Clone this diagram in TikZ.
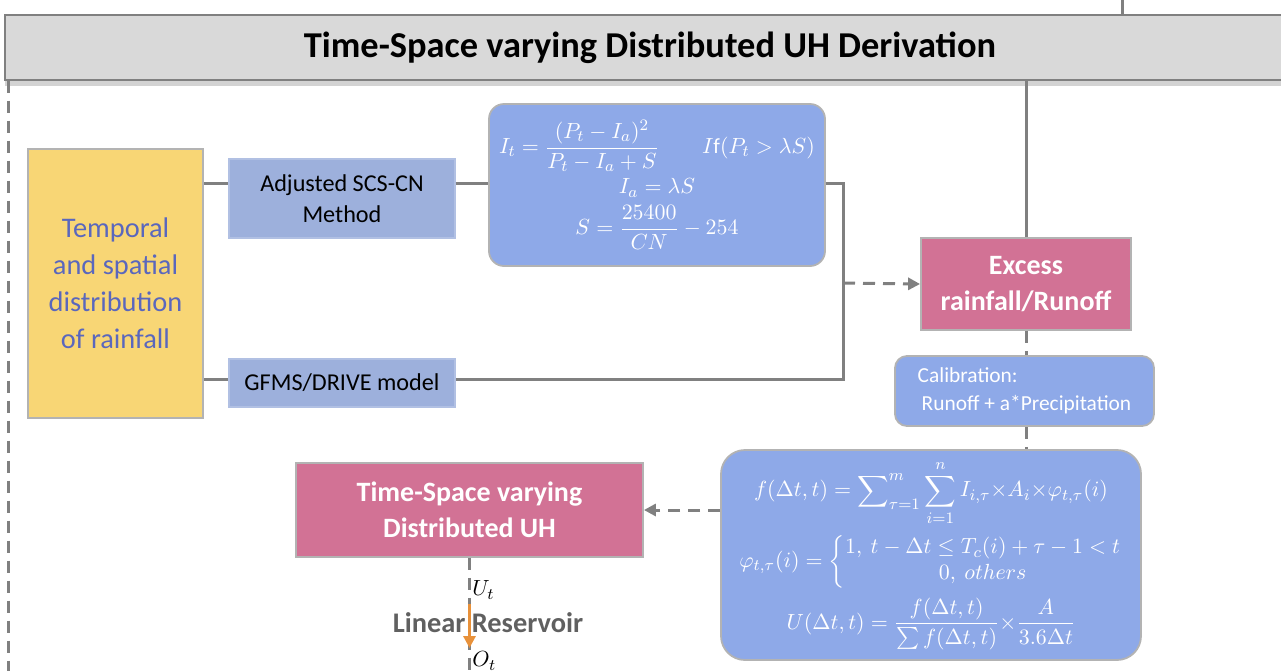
\documentclass[tikz,border=0pt]{standalone}
\usepackage{amsmath}
\usepackage{fontspec}
\setmainfont{Carlito}
\usetikzlibrary{arrows.meta,shadows}
\definecolor{bannergray}{HTML}{D9D9D9}
\definecolor{edgegray}{HTML}{B3B3B3}
\definecolor{linegray}{HTML}{808080}
\definecolor{rainyellow}{HTML}{F8D675}
\definecolor{raintext}{HTML}{5A67BD}
\definecolor{methodblue}{HTML}{9DB0DC}
\definecolor{eqblue}{HTML}{8EA9E8}
\definecolor{uhpink}{HTML}{D27295}
\definecolor{resorange}{HTML}{E8913A}
\definecolor{restext}{HTML}{606060}
\tikzstyle{banner} = [draw=linegray, fill=bannergray, line width=0.6pt,%
	minimum width=645pt, minimum height=32.5pt,%
	drop shadow={shadow xshift=0pt, shadow yshift=-3pt, opacity=0.35},%
	font=\fontsize{18.2}{22}\selectfont\bfseries]
\tikzstyle{methodbox} = [draw=methodblue!80!white, fill=methodblue, line width=0.6pt,%
	minimum width=113pt, align=center, font=\fontsize{12.1}{15.5}\selectfont]
\tikzstyle{eqbox} = [draw=edgegray, fill=eqblue, line width=0.9pt, text=white,%
	align=center, font=\fontsize{10.8}{13}\selectfont]
\tikzstyle{resultbox} = [draw=edgegray, fill=uhpink, line width=0.9pt, text=white,%
	align=center, font=\fontsize{14}{18}\selectfont\bfseries]
\tikzstyle{link} = [draw=linegray, line width=1.5pt]
\tikzstyle{dashlink} = [draw=linegray, line width=1.5pt, dash pattern=on 6pt off 4pt]
\tikzstyle{dasharrow} = [dashlink, -{Triangle[width=6pt,length=6pt]}]
\newcommand{\tx}{\mathord{\times}}
\begin{document}
\begin{tikzpicture}[x=0.5pt,y=-0.5pt]
	\useasboundingbox (0,0) rectangle (1281,671);
	% header
	\node[banner] (title) at (650,47.5) {Time-Space varying Distributed UH Derivation};
	% inputs and methods
	\node[draw=edgegray, fill=rainyellow, line width=0.9pt, minimum width=87.5pt, minimum height=134.5pt,%
		text=raintext, align=center, font=\fontsize{14.2}{18.5}\selectfont] (rain) at (115.5,283.5)
		{Temporal\\and spatial\\distribution\\of rainfall};
	\node[methodbox, minimum height=39.5pt] (scs) at (342,198.5) {Adjusted SCS-CN\\Method};
	\node[methodbox, minimum height=24pt] (gfms) at (342,383) {GFMS/DRIVE model};
	\node[eqbox, rounded corners=7.5pt, minimum width=168pt, minimum height=81pt] (eqa) at (657,185)
		{$\begin{gathered}[c]
		 I_t=\frac{(P_t-I_a)^2}{P_t-I_a+S}\qquad I\mathrm{f}(P_t>\lambda S)\\[-2pt]
		 I_a=\lambda S\\[-2pt]
		 S=\frac{25400}{CN}-254
		 \end{gathered}$};
	% runoff and calibration
	\node[resultbox, minimum width=105pt, minimum height=46pt] (excess) at (1026,284) {Excess\\rainfall/Runoff};
	\node[eqbox, rounded corners=6pt, minimum width=129.5pt, minimum height=35pt, align=left,%
		font=\fontsize{10.7}{14}\selectfont] (calib) at (1024.5,391)
		{Calibration:\\\hspace{2pt}Runoff + a*Precipitation};
	\node[eqbox, rounded corners=12pt, minimum width=210pt, minimum height=105pt] (eqb) at (931,555)
		{$\begin{gathered}[c]
		 f(\Delta t,t)=\sum\nolimits_{\tau=1}^{m}\sum_{i=1}^{n}I_{i,\tau}\tx A_i\tx\varphi_{t,\tau}(i)\\[1pt]
		 \varphi_{t,\tau}(i)=\left\{\begin{array}{@{}c@{}}1,\ t-\Delta t\le T_c(i)+\tau-1<t\\ 0,\ others\end{array}\right.\\[1pt]
		 U(\Delta t,t)=\frac{f(\Delta t,t)}{\sum f(\Delta t,t)}\tx\frac{A}{3.6\Delta t}
		 \end{gathered}$};
	% unit hydrograph
	\node[resultbox, minimum width=173.5pt, minimum height=47pt] (uh) at (469.5,510) {Time-Space varying\\Distributed UH};
	\node[text=restext, font=\fontsize{14.2}{16}\selectfont\bfseries] (linres) at (488,623) {Linear Reservoir};
	\node[anchor=west, inner sep=0pt, font=\fontsize{11}{13}\selectfont] (ut) at (472,590) {$U_t$};
	\node[anchor=west, inner sep=0pt, font=\fontsize{11}{13}\selectfont] (ot) at (472,661) {$O_t$};
	% connectors
	\coordinate (ya) at (0,183);
	\coordinate (yb) at (0,379);
	\coordinate (bus) at (843,283);
	\coordinate (top) at (1122,0);
	\coordinate (edge) at (8,671);
	\coordinate (foot) at (469.5,671);
	\draw[link] (rain.east |- ya) -- (scs.west |- ya);
	\draw[link] (scs.east |- ya) -- (eqa.west |- ya);
	\draw[link] (eqa.east |- ya) -- (bus |- ya) -- (bus |- yb) -- (gfms.east |- yb);
	\draw[link] (rain.east |- yb) -- (gfms.west |- yb);
	\draw[dasharrow] (bus) -- (excess.west);
	\draw[link] (excess.north) -- (excess.north |- title.south);
	\draw[link] (top) -- (top |- title.north);
	\draw[dashlink] (edge |- title.south) -- (edge);
	\draw[dashlink] (excess.south) -- (excess.south |- calib.north);
	\draw[dashlink] (excess.south |- calib.south) -- (excess.south |- eqb.north);
	\draw[dasharrow] (eqb.west |- uh.east) -- (uh.east);
	\draw[dashlink] (uh.south) -- (foot);
	\draw[draw=resorange, line width=1.8pt, -{Triangle[width=6pt,length=6pt]}] (uh.south |- 0,604) -- (uh.south |- 0,648);
\end{tikzpicture}
\end{document}
